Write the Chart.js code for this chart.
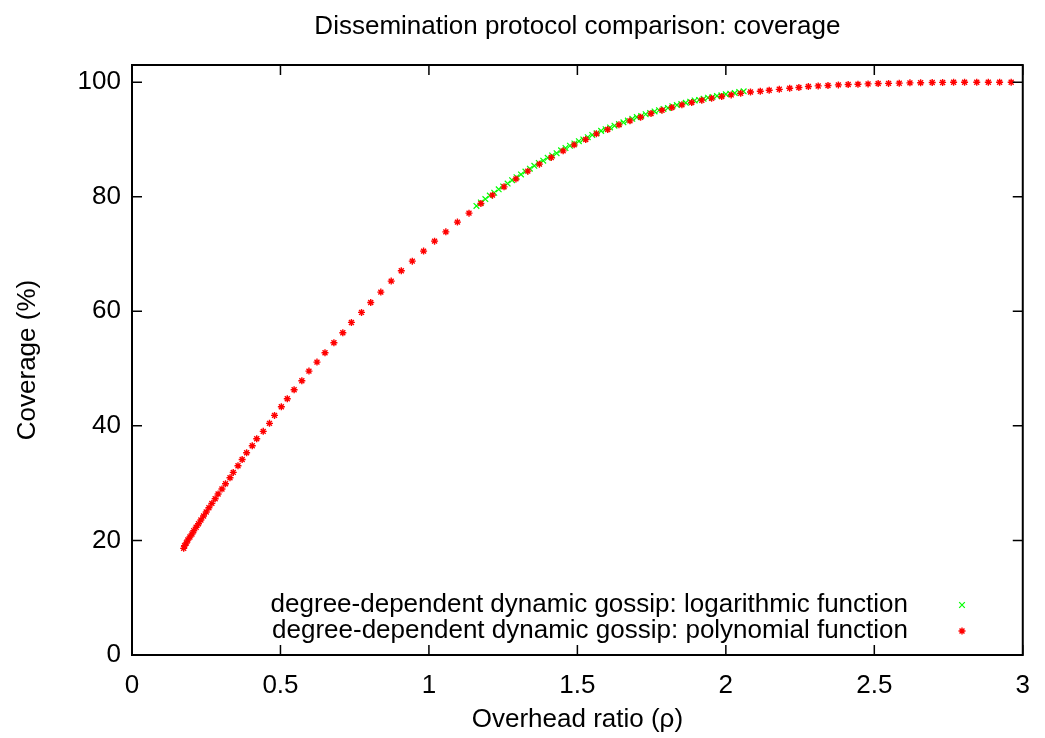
<!DOCTYPE html>
<html>
<head>
<meta charset="utf-8">
<script src="https://cdn.jsdelivr.net/npm/chart.js@4.4.1/dist/chart.umd.min.js"></script>
<style>
html, body { margin: 0; padding: 0; background: #fff; }
#wrap { width: 1045px; height: 738px; }
</style>
</head>
<body>
<div id="wrap"><canvas id="chart" width="1045" height="738"></canvas></div>
<script>
// series: polynomial (red *)
var polyX = [0.174,0.177,0.183,0.188,0.195,0.202,0.208,0.216,0.224,0.232,
	0.241,0.250,0.259,0.269,0.280,0.290,0.303,0.315,0.330,0.341,
	0.357,0.371,0.386,0.405,0.420,0.442,0.463,0.480,0.503,0.523,
	0.546,0.572,0.596,0.623,0.650,0.680,0.710,0.739,0.773,0.804,
	0.838,0.873,0.907,0.944,0.982,1.019,1.057,1.096,1.135,1.175,
	1.214,1.253,1.293,1.333,1.372,1.412,1.452,1.489,1.528,1.564,
	1.602,1.640,1.677,1.713,1.748,1.785,1.818,1.852,1.885,1.919,
	1.952,1.986,2.018,2.050,2.083,2.116,2.146,2.180,2.215,2.246,
	2.278,2.311,2.344,2.379,2.412,2.445,2.479,2.513,2.548,2.584,
	2.620,2.656,2.695,2.730,2.767,2.804,2.845,2.884,2.922,2.961];
var polyY = [18.62,19.08,19.55,20.07,20.59,21.12,21.69,22.29,22.91,23.56,
	24.26,24.96,25.71,26.47,27.28,28.10,28.97,29.90,30.94,31.88,
	33.04,34.12,35.31,36.53,37.75,39.04,40.44,41.83,43.33,44.73,
	46.30,47.87,49.56,51.13,52.76,54.50,56.25,58.06,59.81,61.55,
	63.35,65.27,67.07,68.76,70.51,72.25,73.87,75.57,77.14,78.83,
	80.28,81.73,83.12,84.47,85.69,86.86,88.01,89.06,90.00,90.98,
	91.75,92.55,93.25,93.89,94.54,95.11,95.58,96.04,96.46,96.86,
	97.21,97.50,97.78,98.05,98.28,98.43,98.58,98.75,98.95,99.08,
	99.25,99.35,99.42,99.53,99.60,99.65,99.70,99.77,99.79,99.83,
	99.88,99.90,99.95,99.96,100,100,100,100,100,100];

// series: logarithmic (green x)
var logX = [1.160,1.175,1.190,1.205,1.220,1.235,1.250,1.265,1.280,1.295,
	1.310,1.325,1.340,1.355,1.370,1.385,1.400,1.415,1.430,1.445,
	1.460,1.475,1.490,1.505,1.520,1.535,1.550,1.565,1.580,1.595,
	1.610,1.625,1.640,1.655,1.670,1.685,1.700,1.715,1.730,1.745,
	1.760,1.775,1.790,1.805,1.820,1.835,1.850,1.865,1.880,1.895,
	1.910,1.925,1.940,1.955,1.970,1.985,2.000,2.015,2.030,2.045,2.060];
var logY = [78.4,79.0,79.6,80.2,80.7,81.3,81.8,82.3,82.9,83.4,
	83.9,84.4,84.9,85.4,85.9,86.3,86.8,87.2,87.6,88.1,
	88.5,88.9,89.3,89.7,90.0,90.4,90.8,91.1,91.5,91.8,
	92.1,92.4,92.7,93.0,93.3,93.6,93.9,94.1,94.4,94.6,
	94.9,95.1,95.3,95.5,95.8,96.0,96.2,96.4,96.6,96.8,
	96.9,97.1,97.3,97.4,97.6,97.7,97.9,98.0,98.1,98.3,98.4];

var xTicks = [0, 0.5, 1, 1.5, 2, 2.5, 3];
var yTicks = [0, 20, 40, 60, 80, 100];
var seriesLabels = [
	'degree-dependent dynamic gossip: logarithmic function',
	'degree-dependent dynamic gossip: polynomial function'
];
var chartTitle = 'Dissemination protocol comparison: coverage';

var FONT = '"Liberation Sans", Arial, Helvetica, sans-serif';

function toPoints(xs, ys) {
	var pts = new Array();
	xs.forEach(function(x, i) {
		pts.push({ x: x, y: ys[i] });
	});
	return pts;
}

// gnuplot style frame with inward ticks on all sides, title centred on the plot
var framePlugin = {
	id: 'frame',
	afterDraw: function(chart) {
		var ctx = chart.ctx;
		var a = chart.chartArea;
		var xs = chart.scales.x;
		var ys = chart.scales.y;
		var tl = 10;
		ctx.save();
		ctx.strokeStyle = '#000';
		ctx.lineWidth = 1.5;
		ctx.beginPath();
		xTicks.forEach(function(v) {
			var px = xs.getPixelForValue(v);
			ctx.moveTo(px, a.bottom); ctx.lineTo(px, a.bottom - tl);
			ctx.moveTo(px, a.top); ctx.lineTo(px, a.top + tl);
		});
		yTicks.forEach(function(v) {
			var py = ys.getPixelForValue(v);
			ctx.moveTo(a.left, py); ctx.lineTo(a.left + tl, py);
			ctx.moveTo(a.right, py); ctx.lineTo(a.right - tl, py);
		});
		ctx.stroke();
		ctx.lineWidth = 2;
		ctx.strokeRect(a.left, a.top, a.right - a.left, a.bottom - a.top);

		ctx.font = '26px ' + FONT;
		ctx.fillStyle = '#000';
		ctx.textAlign = 'center';
		ctx.textBaseline = 'middle';
		ctx.fillText(chartTitle, (a.left + a.right) / 2, 27);
		ctx.restore();
	}
};

// key inside the plot, text right aligned, sample on the right
var keyPlugin = {
	id: 'key',
	afterDraw: function(chart) {
		var ctx = chart.ctx;
		var textRight = 908;
		var markX = 962;
		var rows = [605, 631];
		chart.data.datasets.forEach(function(ds, i) {
			ctx.save();
			ctx.font = '26px ' + FONT;
			ctx.fillStyle = '#000';
			ctx.textAlign = 'right';
			ctx.textBaseline = 'middle';
			ctx.fillText(ds.label, textRight, rows[i]);
			ctx.strokeStyle = ds.borderColor;
			ctx.fillStyle = ds.borderColor;
			ctx.lineWidth = ds.borderWidth;
			Chart.helpers.drawPoint(ctx, {
				pointStyle: ds.pointStyle,
				radius: ds.pointRadius,
				borderWidth: ds.borderWidth,
				rotation: 0
			}, markX, rows[i]);
			ctx.restore();
		});
	}
};

var _config = {
	type: 'scatter',
	data: {
		datasets: [
			{
				label: seriesLabels[0],
				data: toPoints(logX, logY),
				pointStyle: 'crossRot',
				pointRadius: 4,
				borderWidth: 1.2,
				borderColor: '#00ff00',
				backgroundColor: '#00ff00',
				order: 1
			},
			{
				label: seriesLabels[1],
				data: toPoints(polyX, polyY),
				pointStyle: 'star',
				pointRadius: 3.5,
				borderWidth: 1.4,
				borderColor: '#ff0000',
				backgroundColor: '#ff0000',
				order: 0
			}
		]
	},
	options: {
		responsive: false,
		animation: false,
		events: [],
		layout: { padding: { left: 0, right: 14.5, top: 65, bottom: 0 } },
		plugins: {
			legend: { display: false },
			tooltip: { enabled: false },
			title: { display: false }
		},
		scales: {
			x: {
				type: 'linear',
				min: 0,
				max: 3,
				grid: { display: false, drawTicks: false },
				border: { display: false },
				afterBuildTicks: function(axis) {
					axis.ticks = xTicks.map(function(v) { return { value: v }; });
				},
				afterFit: function(scale) { scale.height = 83; },
				ticks: {
					color: '#000',
					padding: 15,
					maxRotation: 0,
					font: { family: FONT, size: 26 },
					callback: function(v) { return String(v); }
				},
				title: {
					display: true,
					text: 'Overhead ratio (\u03c1)',
					color: '#000',
					font: { family: FONT, size: 26 },
					padding: { top: 0, bottom: 3 }
				}
			},
			y: {
				type: 'linear',
				min: 0,
				max: 103,
				grid: { display: false, drawTicks: false },
				border: { display: false },
				afterBuildTicks: function(axis) {
					axis.ticks = yTicks.map(function(v) { return { value: v }; });
				},
				afterFit: function(scale) { scale.width = 132; },
				ticks: {
					color: '#000',
					padding: 11,
					font: { family: FONT, size: 26 },
					callback: function(v) { return String(v); }
				},
				title: {
					display: true,
					text: 'Coverage (%)',
					color: '#000',
					font: { family: FONT, size: 26 },
					padding: { top: 12, bottom: 0 }
				}
			}
		}
	},
	plugins: [framePlugin, keyPlugin]
};

var myChart = new Chart(document.getElementById('chart'), _config);
</script>
</body>
</html>
